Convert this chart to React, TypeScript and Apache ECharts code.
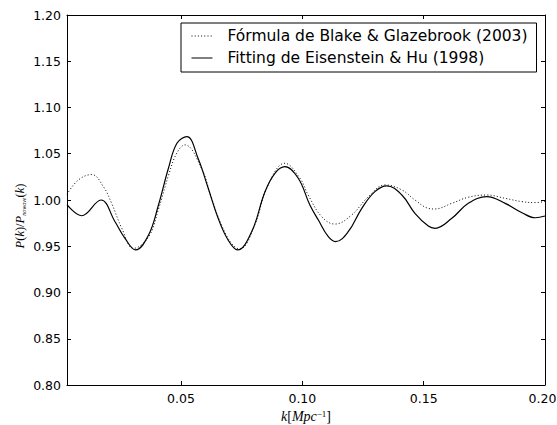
import React, { useEffect, useRef } from "react";
import * as echarts from "echarts";

// Fitting de Eisenstein & Hu (1998) — solid line
const kSolid = [0.003, 0.009, 0.017, 0.0228, 0.0269, 0.0313, 0.0366, 0.0407, 0.0448, 0.0483, 0.0524, 0.057, 0.0612, 0.0653, 0.0694, 0.0733, 0.0791, 0.0846, 0.0887, 0.0928, 0.0983, 0.1031, 0.1066, 0.1107, 0.1137, 0.1189, 0.1245, 0.1299, 0.1348, 0.141, 0.1464, 0.1519, 0.1547, 0.1616, 0.1684, 0.176, 0.1836, 0.1905, 0.196, 0.2];
const pSolid = [0.995, 0.983, 1.0, 0.9765, 0.9585, 0.946, 0.9621, 0.9946, 1.0343, 1.0614, 1.0686, 1.0452, 1.0127, 0.9802, 0.9567, 0.946, 0.9657, 1.009, 1.0289, 1.036, 1.0235, 0.9946, 0.9783, 0.9603, 0.955, 0.9657, 0.991, 1.009, 1.0152, 1.0054, 0.9856, 0.9718, 0.9694, 0.9802, 0.9964, 1.0036, 0.9964, 0.9863, 0.9808, 0.9827];

// Fórmula de Blake & Glazebrook (2003) — dotted line
const kDotted = [0.003, 0.0077, 0.0132, 0.018, 0.0214, 0.0256, 0.0304, 0.0366, 0.0407, 0.045, 0.0483, 0.0516, 0.0584, 0.0626, 0.0667, 0.0708, 0.0742, 0.0804, 0.0853, 0.0928, 0.099, 0.1024, 0.108, 0.1134, 0.1203, 0.1272, 0.1341, 0.141, 0.1464, 0.1519, 0.1545, 0.1616, 0.1684, 0.176, 0.1836, 0.1905, 0.196, 0.2];
const pDotted = [1.0062, 1.0217, 1.0275, 1.0144, 0.9964, 0.9694, 0.9477, 0.96, 0.99, 1.028, 1.051, 1.0596, 1.0343, 1.0018, 0.9729, 0.9531, 0.947, 0.9729, 1.0127, 1.0397, 1.0235, 1.0054, 0.9819, 0.974, 0.9838, 1.0036, 1.0163, 1.0109, 1.0, 0.991, 0.9903, 0.9964, 1.003, 1.0054, 1.0018, 0.9982, 0.9972, 0.9985];

const xTicks = [0.05, 0.1, 0.15, 0.2];
const seriesNames = ["Fórmula de Blake & Glazebrook (2003)", "Fitting de Eisenstein & Hu (1998)"];
const xAxisTitle = "{i|k}{n|[}{i|Mpc}{sup|−1}{n|]}";
const yAxisTitle = "{yi|P}{yn|(}{yi|k}{yn|)/}{yi|P}{sub|nowave}{yn|(}{yi|k}{yn|)}";

const FONT = "DejaVu Sans";
const SERIF = "Liberation Serif";

export default function App() {
  const ref = useRef<HTMLDivElement>(null);
  useEffect(() => {
    if (!ref.current) return;
    const chart = echarts.init(ref.current, null, { renderer: "svg" });
    const axisLine = { show: true, onZero: false, lineStyle: { color: "#000", width: 1 } };
    const tick = { show: true, inside: true, length: 4, lineStyle: { color: "#000", width: 1 } };
    const xTick = { ...tick, customValues: xTicks };
    const mathRich = {
      i: { fontFamily: SERIF, fontStyle: "italic", fontSize: 14, color: "#000" },
      n: { fontFamily: SERIF, fontSize: 14, color: "#000" },
      sup: { fontFamily: SERIF, fontSize: 9, color: "#000", verticalAlign: "top" },
      yi: { fontFamily: SERIF, fontStyle: "italic", fontSize: 12.5, color: "#000" },
      yn: { fontFamily: SERIF, fontSize: 12.5, color: "#000" },
      sub: { fontFamily: SERIF, fontStyle: "italic", fontSize: 6, color: "#000", verticalAlign: "bottom" },
    };
    const maxTick = xTicks[xTicks.length - 1];
    chart.setOption({
      animation: false,
      backgroundColor: "#fff",
      grid: { left: 67, top: 15, right: 12, bottom: 40, outerBoundsMode: "none", containLabel: false },
      legend: {
        left: 181,
        top: 23,
        orient: "vertical",
        backgroundColor: "#fff",
        borderColor: "#000",
        borderWidth: 1,
        borderRadius: 0,
        padding: [4, 9, 5, 10],
        itemWidth: 21,
        itemHeight: 14,
        itemGap: 4,
        itemStyle: { color: "rgba(0,0,0,0)", borderColor: "rgba(0,0,0,0)", borderWidth: 0 },
        lineStyle: { width: 1 },
        formatter: (name: string) => `{pad| }${name}`,
        textStyle: {
          fontFamily: FONT,
          fontSize: 15.5,
          color: "#000",
          lineHeight: 18,
          rich: { pad: { width: 10, fontSize: 15.5, lineHeight: 18 } },
        },
        data: seriesNames,
      },
      graphic: [
        {
          type: "text",
          x: 20,
          y: 216,
          rotation: Math.PI / 2,
          style: { text: yAxisTitle, rich: mathRich, align: "center", verticalAlign: "middle" },
        },
      ],
      xAxis: [
        {
          type: "value",
          min: 0.003,
          max: 0.2,
          position: "bottom",
          axisLine,
          axisTick: xTick,
          axisLabel: {
            customValues: xTicks,
            formatter: (v: number) =>
              Math.abs(v - maxTick) < 1e-9 ? `{edge|${v.toFixed(2)}}` : v.toFixed(2),
            fontFamily: FONT,
            fontSize: 12.5,
            color: "#000",
            margin: 7,
            rich: { edge: { fontFamily: FONT, fontSize: 12.5, color: "#000", padding: [0, 5, 0, 0] } },
          },
          splitLine: { show: false },
          name: xAxisTitle,
          nameLocation: "middle",
          nameGap: 23,
          nameTextStyle: { rich: mathRich },
        },
        {
          type: "value",
          min: 0.003,
          max: 0.2,
          position: "top",
          axisLine,
          axisTick: xTick,
          axisLabel: { show: false, customValues: xTicks },
          splitLine: { show: false },
        },
      ],
      yAxis: [
        {
          type: "value",
          min: 0.8,
          max: 1.2,
          interval: 0.05,
          position: "left",
          axisLine,
          axisTick: tick,
          axisLabel: {
            formatter: (v: number) => v.toFixed(2),
            fontFamily: FONT,
            fontSize: 12.5,
            color: "#000",
            margin: 6,
            showMinLabel: true,
            showMaxLabel: true,
          },
          splitLine: { show: false },
        },
        {
          type: "value",
          min: 0.8,
          max: 1.2,
          interval: 0.05,
          position: "right",
          axisLine,
          axisTick: tick,
          axisLabel: { show: false },
          splitLine: { show: false },
        },
      ],
      series: [
        {
          name: seriesNames[0],
          type: "line",
          xAxisIndex: 0,
          yAxisIndex: 0,
          data: kDotted.map((k, i) => [k, pDotted[i]]),
          smooth: 0.4,
          symbol: "none",
          showSymbol: false,
          lineStyle: { color: "#000", width: 1, type: [1, 2.2] },
          itemStyle: { color: "#000" },
        },
        {
          name: seriesNames[1],
          type: "line",
          xAxisIndex: 0,
          yAxisIndex: 0,
          data: kSolid.map((k, i) => [k, pSolid[i]]),
          smooth: 0.4,
          symbol: "none",
          showSymbol: false,
          lineStyle: { color: "#000", width: 1.2, type: "solid" },
          itemStyle: { color: "#000" },
        },
      ],
    });
    return () => chart.dispose();
  }, []);
  return (
    <div
      ref={ref}
      style={{ position: "absolute", left: 0, top: 0, width: 557, height: 425, background: "#fff" }}
    />
  );
}
